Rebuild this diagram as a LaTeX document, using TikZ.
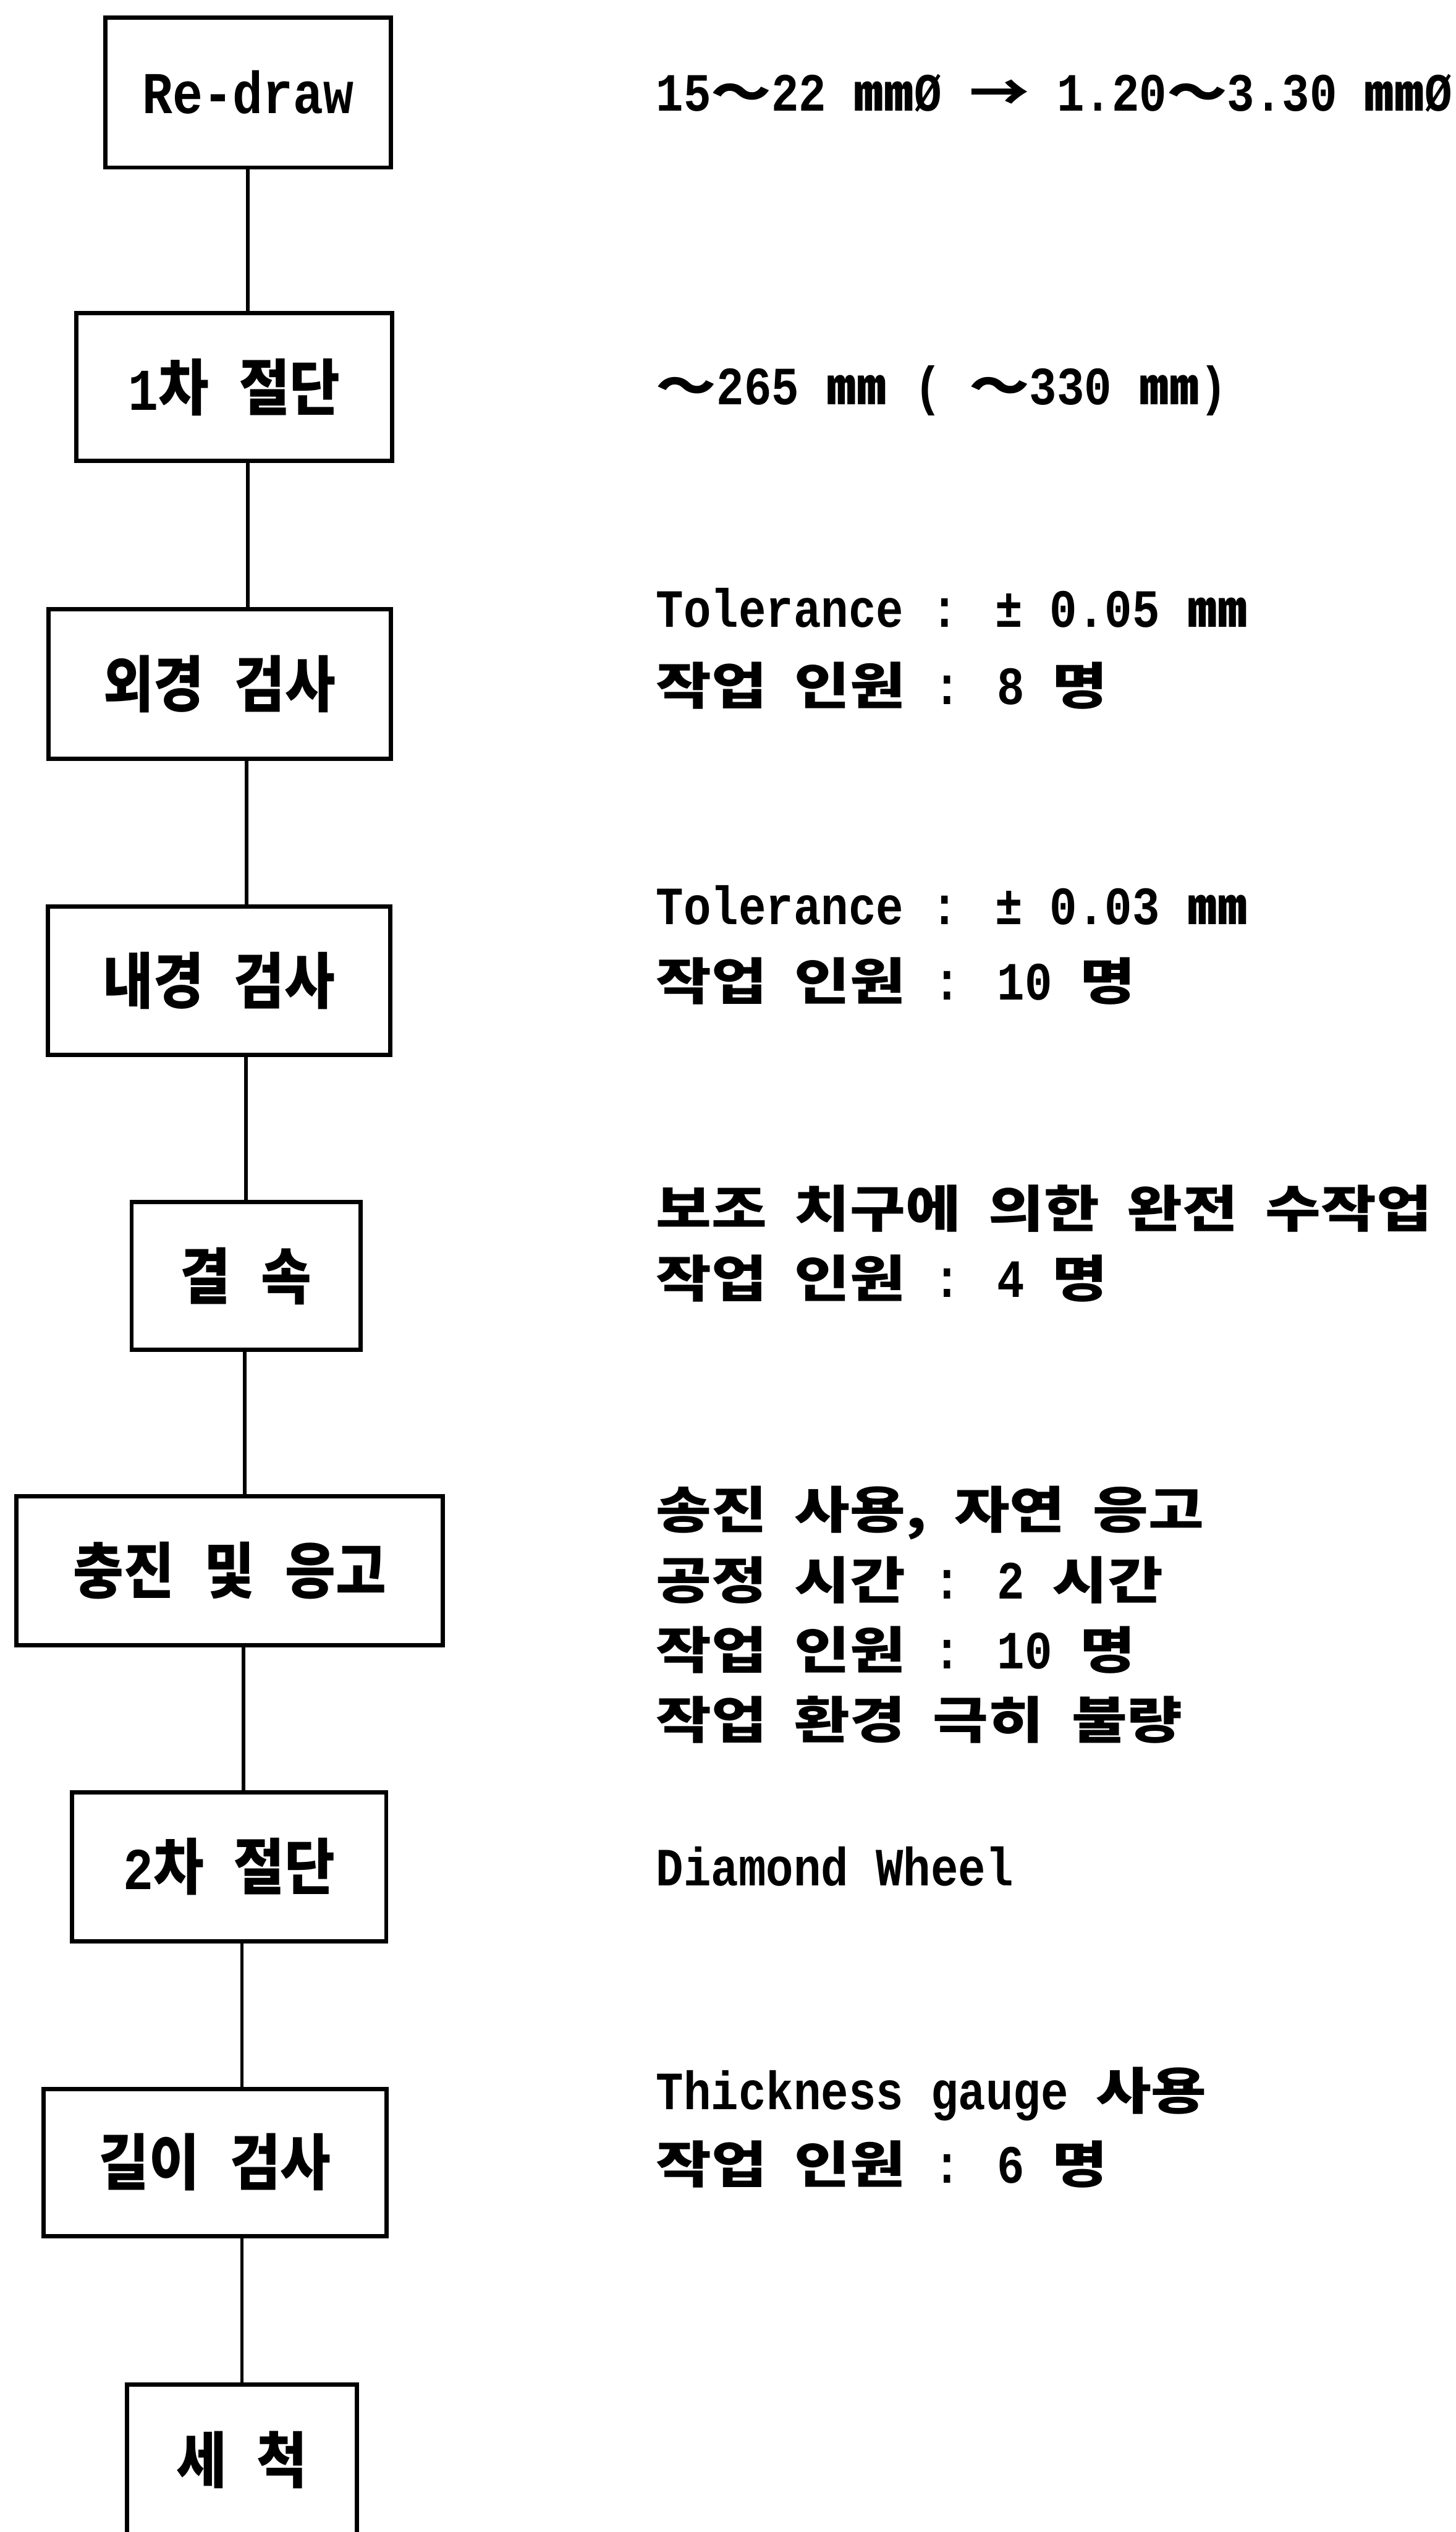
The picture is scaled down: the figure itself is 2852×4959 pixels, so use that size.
\documentclass[tikz,border=0pt]{standalone}
\usepackage{fontspec}
\setmainfont{Liberation Mono}[FakeStretch=0.85]
\newfontfamily\krR{Noto Sans CJK KR}[FakeStretch=1.2]
\newfontfamily\krB{Noto Sans CJK KR}[FakeStretch=0.9]
\newcommand\K[1]{{\krR\bfseries\fontsize{28}{32}\selectfont #1}}
\newcommand\KB[1]{{\krB\bfseries\fontsize{34}{40}\selectfont #1}}
\tikzset{
  procbox/.style={draw, line width=2.4pt, inner sep=0pt, fill=white,
    font=\bfseries\fontsize{33}{40}\selectfont},
  conn/.style={line width=2pt},
  note/.style={anchor=base west, inner sep=0pt,
    font=\bfseries\fontsize{30}{36}\selectfont},
}
\begin{document}
\begin{tikzpicture}[x=0.01cm, y=-0.01cm]
\useasboundingbox (0,0) rectangle (2852,4959);
\clip (0,0) rectangle (2852,4959);
\fill[white] (0,0) rectangle (2852,4959);

% process boxes
\node[procbox, minimum width=5.59cm, minimum height=2.94cm] (rd)  at (486,181)  {Re-draw};
\node[procbox, minimum width=6.18cm, minimum height=2.89cm] (cA)  at (459,758)  {1\KB{차} \KB{절단}};
\node[procbox, minimum width=6.70cm, minimum height=2.93cm] (od)  at (430,1340) {\KB{외경} \KB{검사}};
\node[procbox, minimum width=6.71cm, minimum height=2.90cm] (idn) at (429,1921) {\KB{내경} \KB{검사}};
\node[procbox, minimum width=4.48cm, minimum height=2.90cm] (bd)  at (482,2499) {\KB{결} \KB{속}};
\node[procbox, minimum width=8.35cm, minimum height=2.92cm] (fl)  at (450,3076) {\KB{충진} \KB{및} \KB{응고}};
\node[procbox, minimum width=6.15cm, minimum height=2.91cm] (cB)  at (449,3656) {2\KB{차} \KB{절단}};
\node[procbox, minimum width=6.72cm, minimum height=2.88cm] (ln)  at (421,4235) {\KB{길이} \KB{검사}};
\node[procbox, minimum width=4.51cm, minimum height=2.96cm] (ws)  at (474,4818) {\KB{세} \KB{척}};

% connector x positions
\coordinate (x1) at (485,0);
\coordinate (x2) at (485,0);
\coordinate (x3) at (483,0);
\coordinate (x4) at (482,0);
\coordinate (x5) at (479,0);
\coordinate (x6) at (477,0);
\coordinate (x7) at (474,0);
\coordinate (x8) at (474,0);

\draw[conn] (rd.south -| x1) -- (cA.north -| x1);
\draw[conn] (cA.south -| x2) -- (od.north -| x2);
\draw[conn] (od.south -| x3) -- (idn.north -| x3);
\draw[conn] (idn.south -| x4) -- (bd.north -| x4);
\draw[conn] (bd.south -| x5) -- (fl.north -| x5);
\draw[conn] (fl.south -| x6) -- (cB.north -| x6);
\draw[conn] (cB.south -| x7) -- (ln.north -| x7);
\draw[conn] (ln.south -| x8) -- (ws.north -| x8);

% notes
\node[note] (na)  at (1285,217)  {15\K{～}22 \K{㎜}Ø \K{→} 1.20\K{～}3.30 \K{㎜}Ø};
\node[note] (nb)  at (1285,792)  {\K{～}265 \K{㎜} ( \K{～}330 \K{㎜})};
\node[note] (nc1) at (1285,1228) {Tolerance : ± 0.05 \K{㎜}};
\node[note] (nc2) at (1285,1379) {\K{작업} \K{인원} : 8 \K{명}};
\node[note] (nd1) at (1285,1810) {Tolerance : ± 0.03 \K{㎜}};
\node[note] (nd2) at (1285,1958) {\K{작업} \K{인원} : 10 \K{명}};
\node[note] (ne1) at (1285,2404) {\K{보조} \K{치구에} \K{의한} \K{완전} \K{수작업}};
\node[note] (ne2) at (1285,2540) {\K{작업} \K{인원} : 4 \K{명}};
\node[note] (nf1) at (1285,2994) {\K{송진} \K{사용,} \K{자연} \K{응고}};
\node[note] (nf2) at (1285,3131) {\K{공정} \K{시간} : 2 \K{시간}};
\node[note] (nf3) at (1285,3268) {\K{작업} \K{인원} : 10 \K{명}};
\node[note] (nf4) at (1285,3405) {\K{작업} \K{환경} \K{극히} \K{불량}};
\node[note] (ng)  at (1285,3693) {Diamond Wheel};
\node[note] (nh1) at (1285,4131) {Thickness gauge \K{사용}};
\node[note] (nh2) at (1285,4276) {\K{작업} \K{인원} : 6 \K{명}};
\end{tikzpicture}
\end{document}
